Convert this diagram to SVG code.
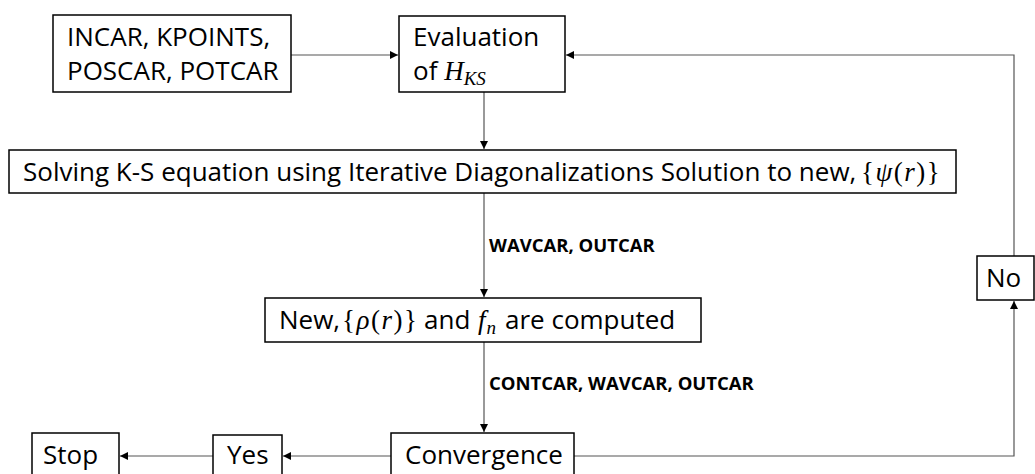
<svg xmlns="http://www.w3.org/2000/svg" width="1035" height="474" viewBox="0 0 1035 474">
<defs>
<style>
.box{fill:#fff;stroke:#000;stroke-width:1.5}
.t{font-family:"Open Sans","Noto Sans",sans-serif;font-size:26px;fill:#000}
.m{font-family:"Liberation Serif","DejaVu Serif",serif;font-style:italic;font-size:27px}
.mu{font-family:"Liberation Serif","DejaVu Serif",serif;font-style:normal;font-size:27px}
.sub{font-family:"Liberation Serif","DejaVu Serif",serif;font-style:italic;font-size:19px}
.lbl{font-family:"Open Sans","Noto Sans",sans-serif;font-size:18.5px;font-weight:bold;fill:#000}
.c{fill:none;stroke:#555;stroke-width:1.2}
</style>
<marker id="ah" viewBox="0 0 10 10" refX="10" refY="5" markerWidth="9" markerHeight="8" markerUnits="userSpaceOnUse" orient="auto">
<path d="M0,0 L10,5 L0,10 z" fill="#000"/>
</marker>
</defs>
<rect width="1035" height="474" fill="#fff"/>
<g id="connectors">
<path class="c" d="M291,55 H398" marker-end="url(#ah)"/>
<path class="c" d="M484,92 V149" marker-end="url(#ah)"/>
<path class="c" d="M484,193 V297" marker-end="url(#ah)"/>
<path class="c" d="M484,342 V432" marker-end="url(#ah)"/>
<path class="c" d="M391,456 H283" marker-end="url(#ah)"/>
<path class="c" d="M213,456 H120" marker-end="url(#ah)"/>
<path class="c" d="M574,456 H1014 V301" marker-end="url(#ah)"/>
<path class="c" d="M1014,256 V55 H566" marker-end="url(#ah)"/>
<text class="lbl" x="489" y="252">WAVCAR, OUTCAR</text>
<text class="lbl" x="489" y="390">CONTCAR, WAVCAR, OUTCAR</text>
</g>
<g id="inputs">
<rect class="box" x="53" y="15" width="238" height="77"/>
<text class="t" x="67" y="46">INCAR, KPOINTS,</text>
<text class="t" x="67" y="80">POSCAR, POTCAR</text>
</g>
<g id="evaluation">
<rect class="box" x="399" y="16" width="166" height="76"/>
<text class="t" x="413" y="46">Evaluation</text>
<text class="t" x="413" y="80">of <tspan class="m">H</tspan><tspan class="sub" dy="5">KS</tspan></text>
</g>
<g id="solving">
<rect class="box" x="9" y="150" width="947" height="43"/>
<text class="t" x="23" y="181">Solving K-S equation using Iterative Diagonalizations Solution to new,<tspan class="mu" x="861" letter-spacing="1.5">{</tspan><tspan class="m" letter-spacing="1.5">ψ</tspan><tspan class="mu" letter-spacing="1.5">(</tspan><tspan class="m" letter-spacing="1.5">r</tspan><tspan class="mu" letter-spacing="1.5">)}</tspan></text>
</g>
<g id="density">
<rect class="box" x="265" y="298" width="436" height="44"/>
<text class="t" x="279" y="329">New,<tspan class="mu" x="342" letter-spacing="1.5">{</tspan><tspan class="m" letter-spacing="1.5">ρ</tspan><tspan class="mu" letter-spacing="1.5">(</tspan><tspan class="m" letter-spacing="1.5">r</tspan><tspan class="mu" letter-spacing="1.5">)}</tspan><tspan x="424">and</tspan><tspan class="m" x="478">f</tspan><tspan class="sub" dy="5" dx="1">n</tspan><tspan x="505" dy="-5">are computed</tspan></text>
</g>
<g id="convergence">
<rect class="box" x="391" y="433" width="183" height="45"/>
<text class="t" x="405" y="464">Convergence</text>
</g>
<g id="yes">
<rect class="box" x="213" y="435" width="69" height="43"/>
<text class="t" x="227" y="464">Yes</text>
</g>
<g id="stop">
<rect class="box" x="32" y="433" width="87" height="45"/>
<text class="t" x="43" y="464">Stop</text>
</g>
<g id="no">
<rect class="box" x="977" y="256" width="57" height="44"/>
<text class="t" x="986" y="287">No</text>
</g>
</svg>
